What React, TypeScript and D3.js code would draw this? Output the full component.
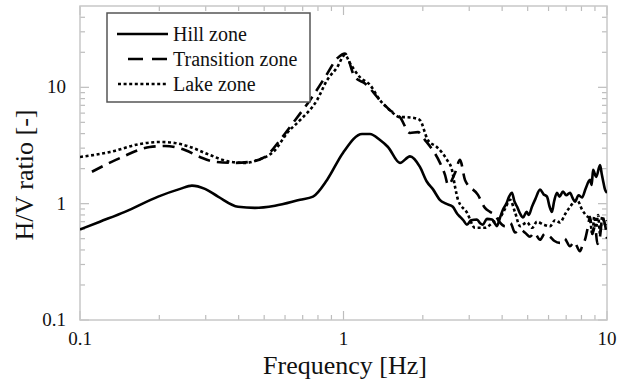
import React from "react";
import * as d3 from "d3";

const hillFreq = [0.1, 0.119, 0.148, 0.198, 0.24, 0.266, 0.298, 0.334, 0.398, 0.461, 0.55, 0.684, 0.766, 0.866, 0.995, 1.176, 1.26, 1.376, 1.475, 1.638, 1.788, 1.95, 2.07, 2.19, 2.32, 2.45, 2.6, 2.7, 2.77, 2.85, 2.94, 3.05, 3.21, 3.3, 3.38, 3.5, 3.66, 3.75, 3.82, 3.92, 4.03, 4.15, 4.25, 4.36, 4.45, 4.56, 4.68, 4.8, 4.95, 5.05, 5.19, 5.35, 5.57, 5.75, 5.92, 6.05, 6.18, 6.3, 6.46, 6.6, 6.81, 7.0, 7.24, 7.4, 7.56, 7.8, 8.04, 8.3, 8.62, 8.75, 8.85, 9.1, 9.41, 9.55, 9.65, 9.83, 10.0];
const hillHV = [0.6, 0.7, 0.85, 1.15, 1.34, 1.43, 1.34, 1.15, 0.94, 0.92, 0.96, 1.08, 1.15, 1.6, 2.73, 3.97, 3.97, 3.52, 3.07, 2.24, 2.55, 2.07, 1.55, 1.32, 1.08, 1.0, 0.94, 0.82, 0.77, 0.72, 0.66, 0.72, 0.73, 0.68, 0.66, 0.74, 0.73, 0.68, 0.64, 0.75, 0.89, 1.0, 1.15, 1.24, 1.05, 0.94, 0.82, 0.76, 0.85, 0.8, 0.94, 1.1, 1.32, 1.2, 1.15, 0.95, 0.85, 1.05, 1.24, 1.15, 1.27, 1.18, 1.24, 1.12, 1.04, 1.18, 1.13, 1.35, 1.6, 1.45, 1.95, 1.7, 2.15, 1.8, 1.6, 1.32, 1.24];

const transFreq = [0.111, 0.142, 0.184, 0.21, 0.25, 0.285, 0.325, 0.388, 0.442, 0.504, 0.574, 0.655, 0.746, 0.851, 0.953, 1.013, 1.105, 1.207, 1.376, 1.501, 1.638, 1.788, 1.917, 2.039, 2.324, 2.428, 2.493, 2.65, 2.768, 2.891, 3.238, 3.443, 3.6, 3.758, 3.9, 4.102, 4.3, 4.478, 4.677, 4.9, 5.103, 5.3, 5.569, 5.8, 6.077, 6.3, 6.632, 6.9, 7.237, 7.5, 7.898, 8.1, 8.253, 8.45, 8.62, 8.8, 9.006, 9.2, 9.405, 9.6, 9.83, 10.0];
const transHV = [1.88, 2.47, 3.07, 3.13, 2.89, 2.52, 2.29, 2.24, 2.29, 2.52, 3.52, 5.22, 7.74, 12.2, 18.0, 19.5, 12.2, 10.8, 7.74, 6.36, 5.54, 4.05, 4.12, 3.52, 2.24, 1.77, 1.45, 1.84, 2.38, 1.6, 1.19, 0.92, 0.85, 0.8, 0.7, 0.64, 0.68, 0.565, 0.6, 0.56, 0.52, 0.56, 0.49, 0.55, 0.52, 0.48, 0.46, 0.5, 0.43, 0.47, 0.39, 0.45, 0.49, 0.62, 0.77, 0.55, 0.64, 0.45, 0.52, 0.75, 0.66, 0.5];

const lakeFreq = [0.1, 0.13, 0.169, 0.201, 0.229, 0.262, 0.311, 0.371, 0.423, 0.474, 0.55, 0.611, 0.684, 0.793, 0.866, 0.945, 1.013, 1.06, 1.155, 1.26, 1.376, 1.5, 1.64, 1.71, 1.87, 1.95, 2.09, 2.26, 2.47, 2.58, 2.65, 2.72, 2.94, 3.155, 3.44, 3.69, 3.93, 4.1, 4.286, 4.478, 4.677, 4.97, 5.2, 5.42, 5.75, 6.08, 6.35, 6.63, 6.95, 7.24, 7.69, 8.04, 8.3, 8.62, 8.8, 8.95, 9.08, 9.25, 9.41, 9.6, 9.83, 10.0];
const lakeHV = [2.52, 2.78, 3.26, 3.39, 3.32, 3.07, 2.62, 2.29, 2.24, 2.38, 2.89, 4.05, 5.22, 7.74, 11.5, 14.8, 19.0, 16.0, 12.2, 10.5, 7.74, 6.36, 5.54, 5.54, 5.43, 5.22, 3.52, 3.07, 2.38, 1.95, 1.4, 1.08, 0.84, 0.62, 0.62, 0.69, 0.76, 0.9, 1.08, 0.84, 0.64, 0.69, 0.62, 0.7, 0.66, 0.64, 0.72, 0.69, 0.82, 0.94, 1.08, 0.89, 0.8, 0.73, 0.55, 0.78, 0.62, 0.8, 0.55, 0.78, 0.66, 0.72];

const seriesNames = ["Hill zone", "Transition zone", "Lake zone"];
const xTickLabels = ["0.1", "1", "10"];
const yTickLabels = ["0.1", "1", "10"];

const FONT = "Liberation Serif, Times New Roman, serif";

export default function App() {
  const W = 627, H = 382;
  const L = 80, R = 607, T = 6, B = 320;
  const x = d3.scaleLog().domain([0.1, 10]).range([L, R]);
  const y = d3.scaleLog().domain([0.1, 50]).range([B, T]);

  const mk = (f: number[], v: number[]) =>
    d3.line<number>().x((_, i) => x(f[i])).y((_, i) => y(v[i])).curve(d3.curveMonotoneX)(f) || "";

  const series = [
    { d: mk(hillFreq, hillHV), dash: undefined as string | undefined },
    { d: mk(transFreq, transHV), dash: "12,7" },
    { d: mk(lakeFreq, lakeHV), dash: "3,2.6" },
  ];

  const xMajor = [0.1, 1, 10];
  const xMinor: number[] = [];
  [0.1, 1].forEach((d) => { for (let k = 2; k <= 9; k++) xMinor.push(d * k); });
  const yMajor = [0.1, 1, 10];
  const yMinor: number[] = [];
  [0.1, 1].forEach((d) => { for (let k = 2; k <= 9; k++) yMinor.push(d * k); });
  [20, 30, 40].forEach((v) => yMinor.push(v));

  const tickColor = "#bdbdbd";
  const maj = 9, mnr = 5;

  const legendRows = [
    { dash: undefined as string | undefined, x1: 117, x2: 168 },
    { dash: "15,9", x1: 128, x2: 167 },
    { dash: "3,2.6", x1: 118, x2: 167 },
  ];

  const ts = { fontFamily: FONT } as React.CSSProperties;

  return (
    <svg width={W} height={H} style={{ position: "absolute", left: 0, top: 0, background: "#fff", fontFamily: FONT }}>
      <defs>
        <clipPath id="plotclip"><rect x={L} y={T} width={R - L} height={B - T} /></clipPath>
      </defs>
      <rect x={0} y={0} width={W} height={H} fill="#fff" />
      <g stroke={tickColor} strokeWidth={1.2}>
        {xMinor.map((v, i) => (
          <g key={"xm" + i}>
            <line x1={x(v)} x2={x(v)} y1={B} y2={B - mnr} />
            <line x1={x(v)} x2={x(v)} y1={T} y2={T + mnr} />
          </g>
        ))}
        {xMajor.map((v, i) => (
          <g key={"xM" + i}>
            <line x1={x(v)} x2={x(v)} y1={B} y2={B - maj} />
            <line x1={x(v)} x2={x(v)} y1={T} y2={T + maj} />
          </g>
        ))}
        {yMinor.map((v, i) => (
          <g key={"ym" + i}>
            <line x1={L} x2={L + mnr} y1={y(v)} y2={y(v)} />
            <line x1={R} x2={R - mnr} y1={y(v)} y2={y(v)} />
          </g>
        ))}
        {yMajor.map((v, i) => (
          <g key={"yM" + i}>
            <line x1={L} x2={L + maj} y1={y(v)} y2={y(v)} />
            <line x1={R} x2={R - maj} y1={y(v)} y2={y(v)} />
          </g>
        ))}
      </g>
      <rect x={L} y={T} width={R - L} height={B - T} fill="none" stroke="#c8c8c8" strokeWidth={1.5} />
      <g clipPath="url(#plotclip)" fill="none" stroke="#000" strokeWidth={2.6} strokeLinejoin="round">
        {series.map((s, i) => (
          <path key={i} d={s.d} strokeDasharray={s.dash} />
        ))}
      </g>
      {xMajor.map((v, i) => (
        <text key={"xl" + i} style={ts} x={x(v)} y={345} textAnchor="middle" fontSize={19} fill="#111">{xTickLabels[i]}</text>
      ))}
      {yMajor.map((v, i) => (
        <text key={"yl" + i} style={ts} x={66} y={y(v) + 6} textAnchor="end" fontSize={19} fill="#111">{yTickLabels[i]}</text>
      ))}
      <text style={ts} x={345} y={374} textAnchor="middle" fontSize={26} fill="#111">Frequency [Hz]</text>
      <text style={ts} transform="translate(33,175) rotate(-90)" textAnchor="middle" fontSize={26} fill="#111">H/V ratio [-]</text>
      <rect x={107} y={13} width={203} height={89} fill="#fff" stroke="#555" strokeWidth={1.5} />
      {legendRows.map((r, i) => (
        <g key={"lg" + i}>
          <line x1={r.x1} x2={r.x2} y1={34 + i * 25} y2={34 + i * 25} stroke="#000" strokeWidth={2.5} strokeDasharray={r.dash} />
          <text style={ts} x={173} y={41 + i * 25} fontSize={20} fill="#111">{seriesNames[i]}</text>
        </g>
      ))}
    </svg>
  );
}
